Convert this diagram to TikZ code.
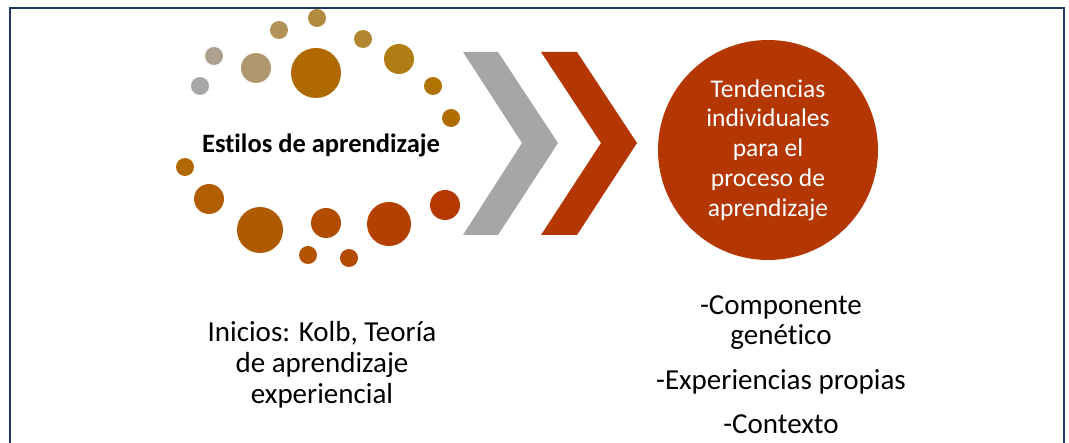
\documentclass[tikz,border=0pt]{standalone}
\usepackage{fontspec}
\setmainfont[Ligatures={NoCommon}]{Carlito}
\definecolor{framenavy}{RGB}{31,56,100}
\definecolor{chevgray}{RGB}{166,166,166}
\definecolor{rust}{RGB}{180,54,0}

\begin{document}
\begin{tikzpicture}[x=1pt, y=-1pt]
    \useasboundingbox (0,0) rectangle (1069,443);
    \draw[framenavy, line width=2pt] (10,446) -- (10,8) -- (1064,8) -- (1064,446);

    % dots round the title
    \fill[color={rgb,255:red,166;green,166;blue,166}] (200,86) circle[radius=9pt];
    \fill[color={rgb,255:red,174;green,160;blue,140}] (214,56) circle[radius=9pt];
    \fill[color={rgb,255:red,176;green,152;blue,112}] (256,68) circle[radius=15pt];
    \fill[color={rgb,255:red,178;green,146;blue,90}] (279,30) circle[radius=9pt];
    \fill[color={rgb,255:red,178;green,138;blue,64}] (317,18) circle[radius=9pt];
    \fill[color={rgb,255:red,176;green,104;blue,0}] (316,73) circle[radius=25pt];
    \fill[color={rgb,255:red,176;green,134;blue,46}] (363,39) circle[radius=9pt];
    \fill[color={rgb,255:red,176;green,124;blue,20}] (399,59) circle[radius=15pt];
    \fill[color={rgb,255:red,176;green,114;blue,0}] (433,86) circle[radius=9pt];
    \fill[color={rgb,255:red,176;green,108;blue,0}] (451,118) circle[radius=9pt];
    \fill[color={rgb,255:red,176;green,104;blue,0}] (185,167) circle[radius=9pt];
    \fill[color={rgb,255:red,176;green,94;blue,0}] (209,199) circle[radius=15pt];
    \fill[color={rgb,255:red,176;green,90;blue,0}] (260,230) circle[radius=23pt];
    \fill[color={rgb,255:red,178;green,84;blue,0}] (308,255) circle[radius=9pt];
    \fill[color={rgb,255:red,178;green,76;blue,0}] (326,223) circle[radius=15pt];
    \fill[color={rgb,255:red,179;green,74;blue,0}] (349,258) circle[radius=9pt];
    \fill[color={rgb,255:red,180;green,64;blue,0}] (389,224) circle[radius=22pt];
    \fill[color={rgb,255:red,181;green,56;blue,0}] (445,205) circle[radius=15pt];

    \node[font=\fontsize{26.5}{30}\selectfont\bfseries] (estilos) at (321,145) {Estilos de aprendizaje};

    % chevrons
    \fill[chevgray] (463,52) -- (498,52) -- (558,143) -- (498,235) -- (463,235) -- (522,143) -- cycle;
    \fill[rust] (541,52) -- (577,52) -- (637,143) -- (577,235) -- (541,235) -- (601,143) -- cycle;

    \node[circle, fill=rust, minimum size=220pt, inner sep=0pt, text=white, align=center,
          font=\fontsize{25.5}{29.7}\selectfont] (tendencias) at (768,150)
        {Tendencias\\individuales\\para el\\proceso de\\aprendizaje};

    \node[align=center, font=\fontsize{29}{31}\selectfont] (inicios) at (322,365)
        {Inicios: Kolb, Teoría\\de aprendizaje\\experiencial};

    \node[align=center, font=\fontsize{29}{30}\selectfont] (factores) at (781,365)
        {-Componente\\genético\\[15pt]-Experiencias propias\\[14pt]-Contexto};
\end{tikzpicture}
\end{document}
